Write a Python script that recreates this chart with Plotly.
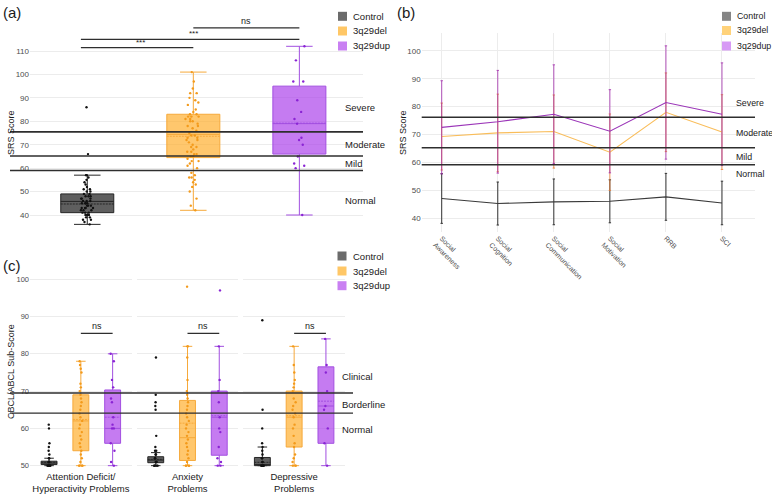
import plotly.graph_objects as go

W, H = 772, 494
FONT = "Liberation Sans, Arial, sans-serif"

groups = ["Control", "3q29del", "3q29dup"]

# ---- (a) SRS total score ----
srs_q1 = [41, 64.5, 66]
srs_median = [45.8, 74.4, 79]
srs_mean = [44.7, 73.6, 79.2]
srs_q3 = [49, 83, 95]
srs_low = [36, 42, 40]
srs_high = [57, 101, 112]
srs_pts_control = [36, 37, 38, 38, 39, 39, 40, 40, 40, 41, 41, 41, 42, 42, 42, 43, 43, 43, 43,
                   44, 44, 44, 45, 45, 45, 45, 46, 46, 46, 47, 47, 47, 48, 48, 48, 49, 49, 50,
                   50, 51, 51, 52, 53, 54, 55, 56, 57, 57, 66, 86]
srs_pts_del = [42, 44, 47, 50, 52, 53, 54, 55, 56, 56, 57, 58, 60, 61, 62, 63, 63, 64, 65, 65,
               66, 66, 67, 67, 68, 69, 69, 70, 71, 72, 72, 73, 73, 74, 74, 75, 76, 77, 78, 78,
               79, 80, 80, 81, 81, 82, 82, 82, 83, 83, 84, 85, 87, 88, 89, 90, 92, 92, 94, 97, 101]
srs_pts_dup = [40, 60, 61, 62, 65, 70, 72, 73, 79, 81, 84, 89, 97, 97, 106, 112]
srs_cutoffs = [75.5, 65.2, 59]
srs_bands = ["Severe", "Moderate", "Mild", "Normal"]
srs_band_y = [86, 70, 62, 46]
srs_sig = [("***", 0, 1, 111.4), ("***", 0, 2, 115.0), ("ns", 1, 2, 119.9)]

# ---- (b) SRS subscales ----
subscales = ["Social<br>Awareness", "Social<br>Cognition", "Social<br>Communication",
             "Social<br>Motivation", "RRB", "SCI"]
sub_control = [47.1, 45.3, 45.9, 46.1, 47.7, 45.5]
sub_control_sd = [8.9, 7.7, 8.2, 7.7, 8.4, 7.8]
sub_del = [69.3, 70.6, 71.1, 63.7, 78.0, 70.9]
sub_del_sd = [12.0, 13.9, 13.1, 13.7, 14.1, 13.4]
sub_dup = [72.6, 74.6, 77.3, 71.2, 81.5, 77.3]
sub_dup_sd = [16.7, 18.4, 17.7, 14.9, 20.3, 18.4]
sub_cutoffs = [76.2, 65.3, 59.2]
sub_band_y = [81.4, 70.7, 62.1, 55.9]

# ---- (c) CBCL/ABCL sub-scores ----
cbcl_domains = ["Attention Deficit/<br>Hyperactivity Problems", "Anxiety<br>Problems",
                "Depressive<br>Problems"]
cbcl_q1 = [[50.3, 54, 56], [50.8, 51.4, 52.8], [50, 55, 56]]
cbcl_median = [[50.7, 62, 60], [51.5, 57.5, 63], [50.3, 63, 66]]
cbcl_mean = [[50.9, 62.4, 63], [51.7, 61.4, 63.4], [50.9, 63.4, 67.3]]
cbcl_q3 = [[51.2, 69, 70.3], [52.4, 67.5, 70], [52.2, 70, 76.5]]
cbcl_low = [[50, 50, 50], [50, 50, 50], [50, 50, 50]]
cbcl_high = [[52, 78, 80], [53.5, 82, 82], [55, 82, 84]]
cbcl_pts = [
    [[50, 50, 50, 50, 50, 50, 50, 51, 51, 51, 52, 52, 53, 54, 55, 56, 60, 61],
     [50, 50, 50, 50, 51, 52, 53, 54, 55, 56, 57, 58, 59, 60, 61, 62, 63, 64, 65, 66, 67,
      68, 69, 70, 71, 72, 75, 76, 77, 78],
     [50, 51, 54, 56, 60, 60, 61, 63, 67, 68, 71, 73, 78, 80]],
    [[50, 50, 50, 50, 50, 51, 51, 51, 52, 52, 53, 53, 54, 54, 55, 58, 65, 66, 67, 69, 79],
     [50, 50, 50, 50, 51, 52, 53, 54, 55, 56, 57, 58, 59, 60, 61, 62, 63, 64, 65, 66, 67,
      68, 69, 70, 73, 79, 82, 82, 98],
     [50, 50, 51, 52, 55, 59, 60, 63, 67, 70, 73, 82, 97]],
    [[50, 50, 50, 50, 50, 50, 51, 51, 52, 52, 53, 54, 55, 56, 60, 65, 89],
     [50, 50, 50, 51, 52, 53, 55, 56, 58, 60, 61, 63, 64, 65, 66, 67, 68, 70, 71, 72, 73,
      75, 77, 82],
     [50, 56, 60, 65, 66, 70, 75, 77, 84]],
]
cbcl_cutoffs = [69.5, 64.1]
cbcl_bands = ["Clinical", "Borderline", "Normal"]
cbcl_band_y = [73.9, 66.5, 59.8]
cbcl_ns_y = 85.5

box_fill = ["rgba(60,60,60,0.82)", "rgba(255,172,40,0.68)", "rgba(170,60,235,0.68)"]
box_line = ["#262626", "#f6a93b", "#a24fe0"]
pt_color = ["#111111", "#f39a1b", "#8a24d4"]
line_color = ["#3a3a3a", "#f9bd5a", "#9b35b8"]
err_color = ["#333333", "rgba(238,120,40,0.75)", "rgba(160,40,170,0.8)"]
swatch = ["#6b6b6b", "#ffc766", "#c980f2"]
swatch_b = ["#858585", "#ffd27a", "#d79af5"]
grid = "#ececec"
tick_col = "#4d4d4d"
txt_col = "#1a1a1a"


def px_x(x):
    return x / W


def px_y(y):
    return 1 - y / H


fig = go.Figure()


def add_box(i, x, q1, med, mean, q3, lo, hi, pts, xa, ya, width, whisk):
    fig.add_trace(go.Box(
        x=[x], q1=[q1], median=[med], mean=[mean], q3=[q3], lowerfence=[lo], upperfence=[hi],
        boxmean=True, width=width, whiskerwidth=whisk, fillcolor=box_fill[i],
        line=dict(color=box_line[i], width=1), boxpoints=False,
        xaxis=xa, yaxis=ya, showlegend=False, hoverinfo="skip"))
    fig.add_trace(go.Box(
        x=[x] * len(pts), y=pts, boxpoints="all", jitter=0.3, pointpos=0, width=width,
        fillcolor="rgba(0,0,0,0)", line=dict(color="rgba(0,0,0,0)", width=0),
        marker=dict(size=2.4, color=pt_color[i]),
        xaxis=xa, yaxis=ya, showlegend=False, hoverinfo="skip"))


# (a)
srs_pts = [srs_pts_control, srs_pts_del, srs_pts_dup]
for i in range(3):
    add_box(i, i, srs_q1[i], srs_median[i], srs_mean[i], srs_q3[i], srs_low[i], srs_high[i],
            srs_pts[i], "x", "y", 0.5, 0.5)

# (b)
sub_means = [sub_control, sub_del, sub_dup]
sub_sds = [sub_control_sd, sub_del_sd, sub_dup_sd]
for i in range(3):
    fig.add_trace(go.Scatter(
        x=subscales, y=sub_means[i], mode="lines",
        line=dict(color=line_color[i], width=1.1),
        error_y=dict(type="data", array=sub_sds[i], color=err_color[i], thickness=1, width=1.2),
        xaxis="x2", yaxis="y2", showlegend=False, hoverinfo="skip"))

# (c)
facet_axes = ["x3", "x4", "x5"]
for d in range(3):
    for i in range(3):
        add_box(i, i, cbcl_q1[d][i], cbcl_median[d][i], cbcl_mean[d][i], cbcl_q3[d][i],
                cbcl_low[d][i], cbcl_high[d][i], cbcl_pts[d][i], facet_axes[d], "y3", 0.5, 0.6)

shapes = []
annotations = []

# threshold lines
for v in srs_cutoffs:
    shapes.append(dict(type="line", xref="paper", yref="y", x0=px_x(10), x1=px_x(363),
                       y0=v, y1=v, line=dict(color="#2e2e2e", width=1.6)))
for v in sub_cutoffs:
    shapes.append(dict(type="line", xref="x2 domain", yref="y2", x0=0, x1=1,
                       y0=v, y1=v, line=dict(color="#2e2e2e", width=1.6)))
for v in cbcl_cutoffs:
    shapes.append(dict(type="line", xref="paper", yref="y3", x0=px_x(10), x1=px_x(353),
                       y0=v, y1=v, line=dict(color="#2e2e2e", width=1.4)))

# band labels
for t, v in zip(srs_bands, srs_band_y):
    annotations.append(dict(text=t, xref="paper", yref="y", x=px_x(343), y=v, xanchor="left",
                            yanchor="middle", showarrow=False, font=dict(size=9.5, color=txt_col)))
for t, v in zip(srs_bands, sub_band_y):
    annotations.append(dict(text=t, xref="paper", yref="y2", x=px_x(734), y=v, xanchor="left",
                            yanchor="middle", showarrow=False, font=dict(size=8.8, color=txt_col)))
for t, v in zip(cbcl_bands, cbcl_band_y):
    annotations.append(dict(text=t, xref="paper", yref="y3", x=px_x(340), y=v, xanchor="left",
                            yanchor="middle", showarrow=False, font=dict(size=9.5, color=txt_col)))

# significance brackets
for label, a, b, v in srs_sig:
    x0 = a - 0.06 if a == 0 else a
    shapes.append(dict(type="line", xref="x", yref="y", x0=x0, x1=b, y0=v, y1=v,
                       line=dict(color="#2e2e2e", width=1.3)))
    annotations.append(dict(text=label, xref="x", yref="y", x=(a + b) / 2, y=v, yanchor="bottom",
                            yshift=-1 if label == "***" else 0, showarrow=False,
                            font=dict(size=8 if label == "***" else 9, color=txt_col)))
for d in range(3):
    shapes.append(dict(type="line", xref=facet_axes[d], yref="y3", x0=1, x1=2,
                       y0=cbcl_ns_y, y1=cbcl_ns_y, line=dict(color="#2e2e2e", width=1.2)))
    annotations.append(dict(text="ns", xref=facet_axes[d], yref="y3", x=1.5, y=cbcl_ns_y,
                            yanchor="bottom", showarrow=False, font=dict(size=9, color=txt_col)))


# legends (drawn by hand, one per panel)
def legend(x_sw, ys, cols, size):
    for y, c, g in zip(ys, cols, groups):
        shapes.append(dict(type="rect", xref="paper", yref="paper", x0=px_x(x_sw),
                           x1=px_x(x_sw + 9), y0=px_y(y + 4.5), y1=px_y(y - 4.5),
                           fillcolor=c, line=dict(width=0)))
        annotations.append(dict(text=g, xref="paper", yref="paper", x=px_x(x_sw + 13), y=px_y(y),
                                xanchor="left", yanchor="middle", showarrow=False,
                                font=dict(size=size, color=txt_col)))


legend(338, [16.3, 31, 46], swatch, 9.5)
legend(722, [16.3, 30.5, 46], swatch_b, 8.8)
legend(337.5, [256, 271, 285.7], swatch, 9.5)

# panel tags and axis titles
for t, x, y in [("(a)", 1, 12), ("(b)", 395, 12), ("(c)", 1, 265)]:
    annotations.append(dict(text=t, xref="paper", yref="paper", x=px_x(x), y=px_y(y),
                            xanchor="left", yanchor="middle", showarrow=False,
                            font=dict(size=15, color=txt_col)))
for t, x, y in [("SRS Score", 11, 133), ("SRS Score", 403, 133), ("CBCL/ABCL Sub-Score", 11, 372)]:
    annotations.append(dict(text=t, xref="paper", yref="paper", x=px_x(x), y=px_y(y),
                            xanchor="center", yanchor="middle", textangle=-90, showarrow=False,
                            font=dict(size=9, color=txt_col)))

yax = dict(showgrid=True, gridcolor=grid, gridwidth=0.8, zeroline=False, ticks="",
           tickfont=dict(size=8, color=tick_col), showline=False)

facet_dom = [(30, 131.7), (136.7, 238.3), (243.3, 345)]
layout_axes = dict(
    xaxis=dict(domain=[px_x(30), px_x(363)], range=[-0.54, 2.6], showticklabels=False,
               showgrid=False, zeroline=False, anchor="y"),
    yaxis=dict(yax, domain=[px_y(231.4), px_y(18.2)], range=[33, 124],
               tickvals=[40, 50, 60, 70, 80, 90, 100, 110], anchor="x"),
    xaxis2=dict(domain=[px_x(421.7), px_x(755)], range=[-0.357, 5.589], type="category",
                showgrid=True, gridcolor=grid, gridwidth=0.8, zeroline=False, ticks="",
                tickangle=45, tickfont=dict(size=7, color=tick_col), anchor="y2"),
    yaxis2=dict(yax, domain=[px_y(232), px_y(33)], range=[35.1, 106.4],
                tickvals=[40, 50, 60, 70, 80, 90, 100], anchor="x2"),
    yaxis3=dict(yax, domain=[px_y(469.4), px_y(264.3)], range=[49, 104],
                tickvals=[50, 60, 70, 80, 90, 100], tickfont=dict(size=7.5, color=tick_col),
                anchor="x3"),
)
for d, name in enumerate(["xaxis3", "xaxis4", "xaxis5"]):
    layout_axes[name] = dict(domain=[px_x(facet_dom[d][0]), px_x(facet_dom[d][1])],
                             range=[-0.6, 2.6], tickvals=[1], ticktext=[cbcl_domains[d]],
                             showgrid=False, zeroline=False, ticks="", anchor="y3",
                             tickfont=dict(size=9.5, color=txt_col))

fig.update_layout(
    width=W, height=H, margin=dict(l=0, r=0, t=0, b=0),
    paper_bgcolor="white", plot_bgcolor="white",
    font=dict(family=FONT, color=txt_col),
    boxmode="overlay", showlegend=False,
    shapes=shapes, annotations=annotations,
    **layout_axes,
)

# the page's default body margin would push the figure 8px down/right
fig.write_html("out.html", config={"displayModeBar": False},
               post_script="document.body.style.margin = '0px';")
